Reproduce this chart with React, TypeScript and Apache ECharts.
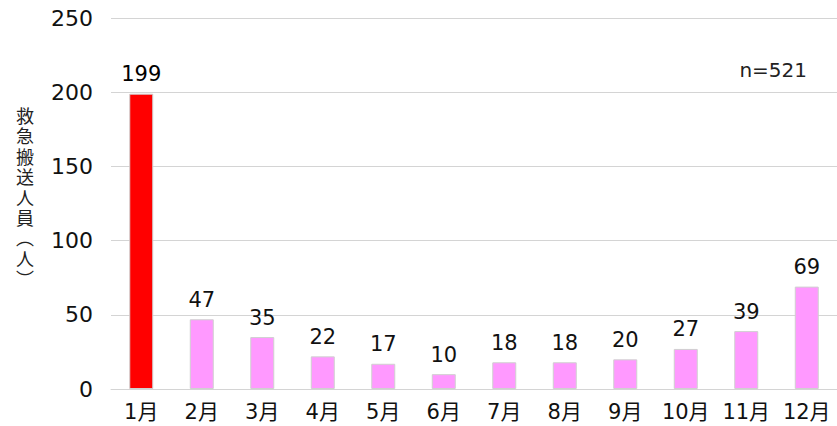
import React, { useEffect, useRef } from "react";
import * as echarts from "echarts";

const categories = ["1月", "2月", "3月", "4月", "5月", "6月", "7月", "8月", "9月", "10月", "11月", "12月"];
const values = [199, 47, 35, 22, 17, 10, 18, 18, 20, 27, 39, 69];
const highlightIndex = 0;
const yTicks = { min: 0, max: 250, interval: 50 };
const axisNameChars = ["救", "急", "搬", "送", "人", "員", "︵", "人", "︶"];
const totalLabel = "n=521";

const FONT = "'DejaVu Sans', 'Noto Sans CJK JP', sans-serif";

export default function App() {
  const ref = useRef<HTMLDivElement>(null);
  useEffect(() => {
    if (!ref.current) return;
    const chart = echarts.init(ref.current, undefined, { renderer: "svg" });
    chart.setOption({
      animation: false,
      grid: { left: 111, right: -2, top: 18, bottom: 37, containLabel: false },
      xAxis: {
        type: "category",
        data: categories,
        axisLine: { show: true, lineStyle: { color: "#d4d4d4", width: 1 } },
        axisTick: { show: false },
        axisLabel: { color: "#111", fontSize: 21, fontFamily: FONT, margin: 12, interval: 0 },
      },
      yAxis: {
        type: "value",
        min: yTicks.min,
        max: yTicks.max,
        interval: yTicks.interval,
        axisLine: { show: false },
        axisTick: { show: false },
        splitLine: { lineStyle: { color: "#d4d4d4", width: 1 } },
        axisLabel: { color: "#111", fontSize: 22, fontFamily: FONT, margin: 18 },
      },
      series: [
        {
          type: "bar",
          data: values.map((v, i) => ({
            value: v,
            itemStyle: { color: i === highlightIndex ? "#ff0000" : "#ff99ff" },
            label: i === highlightIndex ? { color: "#000" } : undefined,
          })),
          barWidth: 24,
          itemStyle: { borderColor: "#d0d0d0", borderWidth: 1 },
          label: {
            show: true,
            position: "top",
            distance: 9,
            color: "#111",
            fontSize: 21,
            fontFamily: FONT,
          },
        },
      ],
      graphic: [
        ...axisNameChars.map((ch, i) => ({
          type: "text",
          x: 25,
          y: 108 + i * 20.4,
          style: {
            text: ch,
            font: `18px 'Liberation Sans', 'Noto Sans CJK JP', sans-serif`,
            fill: "#222",
            align: "center",
            verticalAlign: "top",
          },
        })),
        {
          type: "text",
          right: 30,
          top: 60,
          style: {
            text: totalLabel,
            font: `20px ${FONT}`,
            fill: "#222",
          },
        },
      ],
    });
    return () => chart.dispose();
  }, []);
  return (
    <div
      ref={ref}
      style={{ position: "fixed", left: 0, top: 0, width: 837, height: 426, background: "#fff" }}
    />
  );
}
